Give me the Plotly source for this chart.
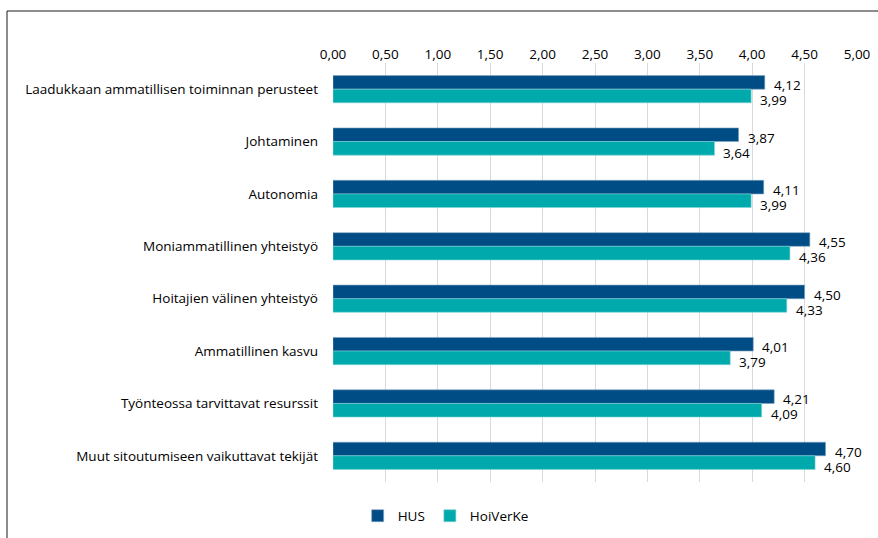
import plotly.graph_objects as go

categories = [
    "Laadukkaan ammatillisen toiminnan perusteet",
    "Johtaminen",
    "Autonomia",
    "Moniammatillinen yhteistyö",
    "Hoitajien välinen yhteistyö",
    "Ammatillinen kasvu",
    "Työnteossa tarvittavat resurssit",
    "Muut sitoutumiseen vaikuttavat tekijät",
]
hus = [4.12, 3.87, 4.11, 4.55, 4.50, 4.01, 4.21, 4.70]
hoiverke = [3.99, 3.64, 3.99, 4.36, 4.33, 3.79, 4.09, 4.60]
tick_values = [0, 0.5, 1, 1.5, 2, 2.5, 3, 3.5, 4, 4.5, 5]

HUS_COLOR = "#004C84"
HOI_COLOR = "#00A9AC"
FONT = "Open Sans"
FS = 13.5

fig = go.Figure()
fig.add_trace(go.Bar(
    y=categories, x=hus, name="HUS", orientation="h",
    marker=dict(color=HUS_COLOR, line=dict(color="#7FA6C4", width=0.6)),
))
fig.add_trace(go.Bar(
    y=categories, x=hoiverke, name="HoiVerKe", orientation="h",
    marker=dict(color=HOI_COLOR, line=dict(color="#7FD3D5", width=0.6)),
))

# value labels just past the end of each bar
annotations = []
for cat, v in zip(categories, hus):
    annotations.append(dict(x=v, y=cat, xref="x", yref="y", text=f"{v:.2f}".replace(".", ","),
                            showarrow=False, xanchor="left", yanchor="middle",
                            xshift=7, yshift=4, font=dict(family=FONT, size=FS, color="#000")))
for cat, v in zip(categories, hoiverke):
    annotations.append(dict(x=v, y=cat, xref="x", yref="y", text=f"{v:.2f}".replace(".", ","),
                            showarrow=False, xanchor="left", yanchor="middle",
                            xshift=7, yshift=-11, font=dict(family=FONT, size=FS, color="#000")))

L, R, T, B = 333, 21, 63, 56
W, H = 878, 538
pw, ph = W - L - R, H - T - B

# chart frame: left and top edges
shapes = [
    dict(type="line", xref="paper", yref="paper",
         x0=(7 - L) / pw, x1=(7 - L) / pw, y0=-(B + 5) / ph, y1=1 + (T - 11) / ph,
         line=dict(color="#8C8C8C", width=2)),
    dict(type="line", xref="paper", yref="paper",
         x0=(7 - L) / pw, x1=(W + 5 - L) / pw, y0=1 + (T - 11) / ph, y1=1 + (T - 11) / ph,
         line=dict(color="#1A1A1A", width=1)),
]

fig.update_layout(
    width=W, height=H,
    margin=dict(l=L, r=R, t=T, b=B, pad=0, autoexpand=False),
    paper_bgcolor="white", plot_bgcolor="white",
    barmode="group", bargap=0.48, bargroupgap=0,
    separators=", ",
    font=dict(family=FONT, size=FS, color="#000"),
    xaxis=dict(range=[0, 5], tickvals=tick_values, tickformat=".2f", side="top",
               showgrid=True, gridcolor="#D9D9D9", gridwidth=1, zeroline=False,
               showline=False, ticks="", tickfont=dict(family=FONT, size=FS, color="#000")),
    yaxis=dict(autorange="reversed", showgrid=False, showline=False, ticks="",
               ticklabelstandoff=14, tickfont=dict(family=FONT, size=FS, color="#000")),
    legend=dict(orientation="h", x=0.215, xanchor="center", y=-0.081, yanchor="middle",
                font=dict(family=FONT, size=FS, color="#000"), traceorder="normal",
                itemwidth=30),
    annotations=annotations,
    shapes=shapes,
)

fig.write_html("out.html")
